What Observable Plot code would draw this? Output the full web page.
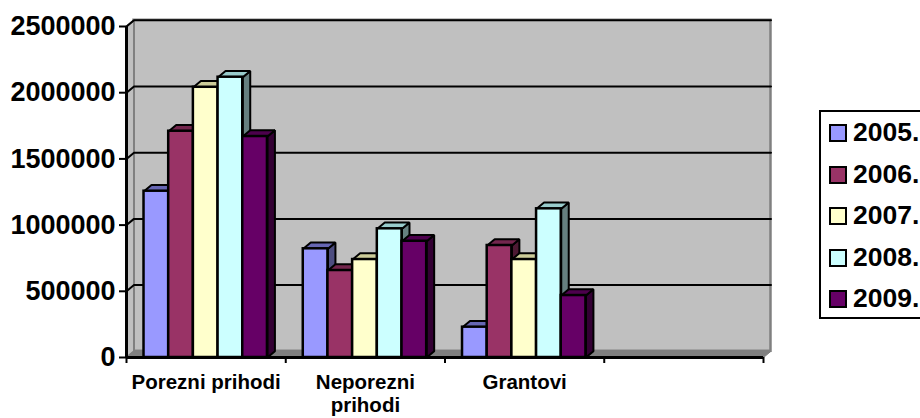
<!DOCTYPE html>
<html><head><meta charset="utf-8">
<script src="https://cdn.jsdelivr.net/npm/d3@7"></script>
<script src="https://cdn.jsdelivr.net/npm/@observablehq/plot@0.6"></script>
<style>
html,body{margin:0;padding:0;background:#fff;overflow:hidden}
#wrap{position:relative;width:920px;height:418px;overflow:hidden;font-family:"Liberation Sans",Arial,sans-serif;font-weight:bold}
#legend{position:absolute;left:819px;top:110px;width:130px;height:205px;border:2px solid #000;background:#fff;box-sizing:content-box}
.row{position:absolute;left:8px;height:25px;line-height:25px;font-size:26.5px;color:#000;white-space:nowrap}
.sw{display:inline-block;width:14px;height:14px;border:2px solid #000;margin-right:6px;vertical-align:-1px}
</style></head><body><div id="wrap"></div>
<script>
const categories = ["Porezni prihodi", "Neporezni\nprihodi", "Grantovi"];
const years = ["2005.", "2006.", "2007.", "2008.", "2009."];
const values2005 = [1256000, 821000, 229000];
const values2006 = [1709000, 657000, 846000];
const values2007 = [2041000, 740000, 740000];
const values2008 = [2117000, 972000, 1123000];
const values2009 = [1669000, 878000, 468000];
const series = [values2005, values2006, values2007, values2008, values2009];
const frontColors = ["#9999FF", "#993366", "#FFFFCC", "#CCFFFF", "#660066"];
const topColors = ["#6666B3", "#73264D", "#CCCC99", "#99CCCC", "#4D004D"];
const sideColors = ["#4D4D80", "#4D1A33", "#808066", "#668080", "#330033"];
const yTicks = [0, 500000, 1000000, 1500000, 2000000, 2500000];

const slotCount = 4, yMax = 2500000;
const barWidth = 0.155, groupPad = 0.11;
const depthX = 0.047, depthY = 47000;

const bars = [];
categories.forEach((c, g) => series.forEach((vals, s) => {
  const x1 = g + groupPad + s * barWidth, x2 = x1 + barWidth;
  bars.push({x1, x2, v: vals[g], s});
}));
const faces = bars.flatMap((b, i) => {
  const top = [[b.x1,b.v],[b.x2,b.v],[b.x2+depthX,b.v+depthY],[b.x1+depthX,b.v+depthY],[b.x1,b.v]];
  const side = [[b.x2,0],[b.x2+depthX,depthY],[b.x2+depthX,b.v+depthY],[b.x2,b.v],[b.x2,0]];
  return [
    ...side.map(([x,y]) => ({x,y,id:`s${i}`,fill:sideColors[b.s]})),
    ...top.map(([x,y]) => ({x,y,id:`t${i}`,fill:topColors[b.s]}))
  ];
});
const leftWall = [[0,0],[depthX,depthY],[depthX,yMax+depthY],[0,yMax],[0,0]].map(([x,y])=>({x,y}));
const floor = [[0,0],[slotCount,0],[slotCount+depthX,depthY],[depthX,depthY],[0,0]].map(([x,y])=>({x,y}));
const grid = yTicks.slice(1).flatMap(t => [
  {x:0,y:t,id:t},{x:depthX,y:t+depthY,id:t},{x:slotCount+depthX,y:t+depthY,id:t}
]);

const chart = Plot.plot({
  width: 920, height: 418,
  marginLeft: 126, marginRight: 157, marginTop: 26, marginBottom: 61,
  x: {domain: [0, slotCount], axis: null},
  y: {domain: [0, yMax], axis: null},
  style: {background: "#fff", fontFamily: '"Liberation Sans",Arial,sans-serif'},
  marks: [
    Plot.rect([{}], {x1: depthX, x2: slotCount + depthX, y1: depthY, y2: yMax + depthY, fill: "#C0C0C0", stroke: "#808080", strokeWidth: 2.5}),
    Plot.line(leftWall, {x: "x", y: "y", fill: "#C0C0C0", stroke: "#808080", strokeWidth: 2}),
    Plot.line(floor, {x: "x", y: "y", fill: "#808080", stroke: "#808080", strokeWidth: 1}),
    Plot.line(grid, {x: "x", y: "y", z: "id", stroke: "#000", strokeWidth: 2}),
    Plot.ruleX([0], {y1: 0, y2: yMax, stroke: "#000", strokeWidth: 3}),
    Plot.ruleY([0], {x1: 0, x2: slotCount, stroke: "#000", strokeWidth: 3}),
    Plot.axisY({ticks: yTicks, tickFormat: d => String(d), tickSize: 7, tickPadding: 4, fontSize: 27, fontWeight: "bold", fill: "#000", stroke: "#000", strokeWidth: 2, marginLeft: 126}),
    Plot.axisX({ticks: [0,1,2,3,4], tickFormat: () => "", tickSize: 6, stroke: "#000", strokeWidth: 2}),
    Plot.line(faces, {x: "x", y: "y", z: "id", fill: "fill", stroke: "#000", strokeWidth: 2, strokeLinejoin: "miter"}),
    Plot.rect(bars, {x1: "x1", x2: "x2", y1: 0, y2: "v", fill: d => frontColors[d.s], stroke: "#000", strokeWidth: 2.5}),
    Plot.text(categories, {x: (d, i) => i + 0.5, y: 0, text: d => d, dy: 15, lineAnchor: "top", lineHeight: 1.12, fontSize: 20.5, fontWeight: "bold", fill: "#000"})
  ]
});
const wrap = document.getElementById("wrap");
wrap.appendChild(chart);
const legend = document.createElement("div");
legend.id = "legend";
years.forEach((y, i) => {
  const row = document.createElement("div");
  row.className = "row";
  row.style.top = (8 + i * 41.5) + "px";
  const sw = document.createElement("span");
  sw.className = "sw";
  sw.style.background = frontColors[i];
  row.appendChild(sw);
  row.appendChild(document.createTextNode(y));
  legend.appendChild(row);
});
wrap.appendChild(legend);
</script></body></html>
